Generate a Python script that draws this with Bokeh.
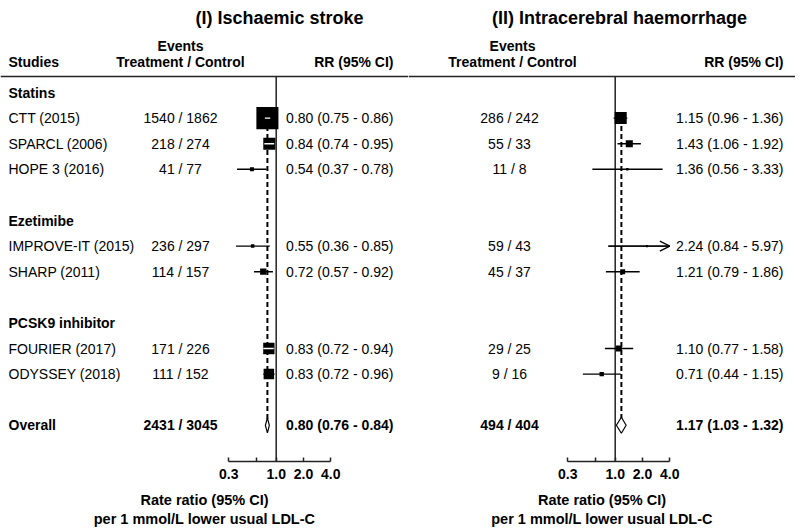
import numpy as np
from bokeh.plotting import figure
from bokeh.models import (Range1d, LogScale, LogAxis, FixedTicker, Span, Arrow,
                          OpenHead, ColumnDataSource)
from bokeh.layouts import row
from bokeh.core.properties import value
from bokeh.embed import file_html
from bokeh.resources import INLINE

# ---------------- data ----------------
groups = ["Statins", "Ezetimibe", "PCSK9 inhibitor"]
studies = ["CTT (2015)", "SPARCL (2006)", "HOPE 3 (2016)", "IMPROVE-IT (2015)",
           "SHARP (2011)", "FOURIER (2017)", "ODYSSEY (2018)"]
study_group = [0, 0, 0, 1, 1, 2, 2]

isch_treat = [1540, 218, 41, 236, 114, 171, 111]
isch_ctrl = [1862, 274, 77, 297, 157, 226, 152]
isch_rr = [0.80, 0.84, 0.54, 0.55, 0.72, 0.83, 0.83]
isch_lo = [0.75, 0.74, 0.37, 0.36, 0.57, 0.72, 0.72]
isch_hi = [0.86, 0.95, 0.78, 0.85, 0.92, 0.94, 0.96]
isch_overall = [2431, 3045, 0.80, 0.76, 0.84]

ich_treat = [286, 55, 11, 59, 45, 29, 9]
ich_ctrl = [242, 33, 8, 43, 37, 25, 16]
ich_rr = [1.15, 1.43, 1.36, 2.24, 1.21, 1.10, 0.71]
ich_lo = [0.96, 1.06, 0.56, 0.84, 0.79, 0.77, 0.44]
ich_hi = [1.36, 1.92, 3.33, 5.97, 1.86, 1.58, 1.15]
ich_overall = [494, 404, 1.17, 1.03, 1.32]

tick_values = [0.3, 0.6, 1.0, 2.0, 4.0]
tick_labels = ["0.3", "", "1.0", "2.0", "4.0"]

titles = ["(I) Ischaemic stroke", "(II) Intracerebral haemorrhage"]
axis_label = "Rate ratio (95% CI)\nper 1 mmol/L lower usual LDL-C"

# ---------------- layout constants (page pixel coordinates) ----------------
FONT_NAME = "Liberation Sans"
FONT = value(FONT_NAME)
K = 39.4            # px per ln unit
TOP_Y = 0.0
FRAME_H = 461
Y0, DY = 92.0, 25.6
RULE_Y = 76.0
NAME_X = 8


# row positions
grp_y, study_y = [], []
idx = 0
for g in range(len(groups)):
    grp_y.append(Y0 + idx * DY)
    idx += 1
    for s in range(len(studies)):
        if study_group[s] == g:
            study_y.append(Y0 + idx * DY)
            idx += 1
    idx += 1
overall_y = Y0 + idx * DY


def txt(p, xs, ys, texts, align="left", size="14px", style="normal"):
    src = ColumnDataSource(dict(x=xs, y=ys, t=texts))
    p.text(x="x", y="y", text="t", source=src, text_font=FONT,
           text_font_size=size, text_font_style=style, text_align=align,
           text_baseline="middle", text_color="black")


def panel(x0, x1, one_px, title, title_x, ev_x, evh_x, rr_x, treat, ctrl, rr, lo, hi,
          overall, size_c, dia_h, show_names):
    p = figure(frame_width=int(x1 - x0), frame_height=FRAME_H,
               x_range=Range1d(x0, x1), y_range=Range1d(TOP_Y + FRAME_H, TOP_Y),
               x_axis_type=None, y_axis_type=None, toolbar_location=None,
               output_backend="svg", min_border=0, min_border_left=0,
               min_border_right=0, min_border_top=0, min_border_bottom=0,
               outline_line_color=None, background_fill_color="white",
               border_fill_color="white")
    p.xgrid.visible = False
    p.ygrid.visible = False
    p.extra_x_ranges = {"rr": Range1d(np.exp((x0 - one_px) / K), np.exp((x1 - one_px) / K))}
    p.extra_x_scales = {"rr": LogScale()}

    ax = LogAxis(x_range_name="rr", ticker=FixedTicker(ticks=tick_values),
                 bounds=(tick_values[0], tick_values[-1]),
                 major_label_overrides={v: l for v, l in zip(tick_values, tick_labels)},
                 axis_label=axis_label)
    ax.major_tick_in = 4
    ax.major_tick_out = 0
    ax.minor_tick_in = 0
    ax.minor_tick_out = 0
    ax.axis_line_width = 1.5
    ax.major_tick_line_width = 1.5
    ax.axis_line_color = "#222222"
    ax.major_tick_line_color = "#222222"
    ax.major_label_standoff = 7
    ax.major_label_text_font = FONT_NAME
    ax.major_label_text_font_size = "14px"
    ax.major_label_text_font_style = "bold"
    ax.major_label_text_color = "black"
    ax.axis_label_standoff = 10
    ax.axis_label_text_font = FONT_NAME
    ax.axis_label_text_font_size = "14.5px"
    ax.axis_label_text_font_style = "bold"
    ax.axis_label_text_color = "black"
    p.add_layout(ax, "below")

    p.add_layout(Span(location=RULE_Y, dimension="width", line_color="#222222",
                      line_width=1.5))

    # reference line at 1 and dashed overall line
    p.segment(x0=[1.0], y0=[RULE_Y], x1=[1.0], y1=[TOP_Y + FRAME_H],
              x_range_name="rr", line_color="#222222", line_width=1.5)
    p.segment(x0=[overall[2]], y0=[study_y[0]], x1=[overall[2]], y1=[overall_y],
              x_range_name="rr", line_color="black", line_width=2, line_dash="5 3")

    rr_a, lo_a, hi_a = np.array(rr), np.array(lo), np.array(hi)
    se = (np.log(hi_a) - np.log(lo_a)) / 3.92
    side = size_c / se
    half = side / 2.0 / K
    inside = (np.log(lo_a) >= np.log(rr_a) - half - 0.01) & (np.log(hi_a) <= np.log(rr_a) + half + 0.01)
    hi_draw = np.minimum(hi_a, tick_values[-1])
    ys = np.array(study_y)

    out = ~inside
    p.segment(x0=lo_a[out], y0=ys[out], x1=hi_draw[out], y1=ys[out], x_range_name="rr",
              line_color="black", line_width=1.4)
    clipped = hi_a > tick_values[-1]
    if clipped.any():
        asrc = ColumnDataSource(dict(xs=lo_a[clipped], xe=hi_draw[clipped], y=ys[clipped]))
        p.add_layout(Arrow(source=asrc, x_start="xs", y_start="y", x_end="xe", y_end="y",
                           x_range_name="rr", line_width=1.2, line_color="black",
                           end=OpenHead(size=10, line_width=1.2, line_color="black")))
    p.scatter(x=rr_a, y=ys, size=side, marker="square", x_range_name="rr",
              fill_color="black", line_color=None)
    p.segment(x0=lo_a[inside], y0=ys[inside], x1=hi_draw[inside], y1=ys[inside],
              x_range_name="rr", line_color="white", line_width=1.4)

    # overall diamond
    est, olo, ohi = overall[2], overall[3], overall[4]
    p.patches(xs=[[olo, est, ohi, est]],
              ys=[[overall_y, overall_y - dia_h, overall_y, overall_y + dia_h]],
              x_range_name="rr", fill_color="white", line_color="black", line_width=1.2)

    # texts
    txt(p, [title_x], [17], [title], align="center", size="18px", style="bold")
    txt(p, [evh_x], [45], ["Events"], align="center", style="bold")
    txt(p, [evh_x], [61], ["Treatment / Control"], align="center", style="bold")
    txt(p, [rr_x], [61], ["RR (95% CI)"], align="right", style="bold")
    if show_names:
        txt(p, [NAME_X], [61], ["Studies"], style="bold")
        txt(p, [NAME_X] * len(groups), grp_y, groups, style="bold")
        txt(p, [NAME_X] * len(studies), study_y, studies)
        txt(p, [NAME_X], [overall_y], ["Overall"], style="bold")
    txt(p, [ev_x] * len(studies), study_y,
        [f"{t} / {c}" for t, c in zip(treat, ctrl)], align="center")
    txt(p, [rr_x] * len(studies), study_y,
        [f"{a:.2f} ({b:.2f} - {c:.2f})" for a, b, c in zip(rr, lo, hi)], align="right")
    txt(p, [ev_x], [overall_y], [f"{overall[0]} / {overall[1]}"], align="center", style="bold")
    txt(p, [rr_x], [overall_y], [f"{overall[2]:.2f} ({overall[3]:.2f} - {overall[4]:.2f})"],
        align="right", style="bold")
    return p


left = panel(0, 408, 275.7, titles[0], 279, 180, 180, 393, isch_treat, isch_ctrl,
             isch_rr, isch_lo, isch_hi, isch_overall, 0.77, 7.5, True)
right = panel(408, 795, 614.7, titles[1], 619, 509, 512, 783, ich_treat, ich_ctrl,
              ich_rr, ich_lo, ich_hi, ich_overall, 1.07, 8.0, False)

layout = row(left, right, spacing=0)
open("out.html", "w").write(file_html(layout, INLINE))
